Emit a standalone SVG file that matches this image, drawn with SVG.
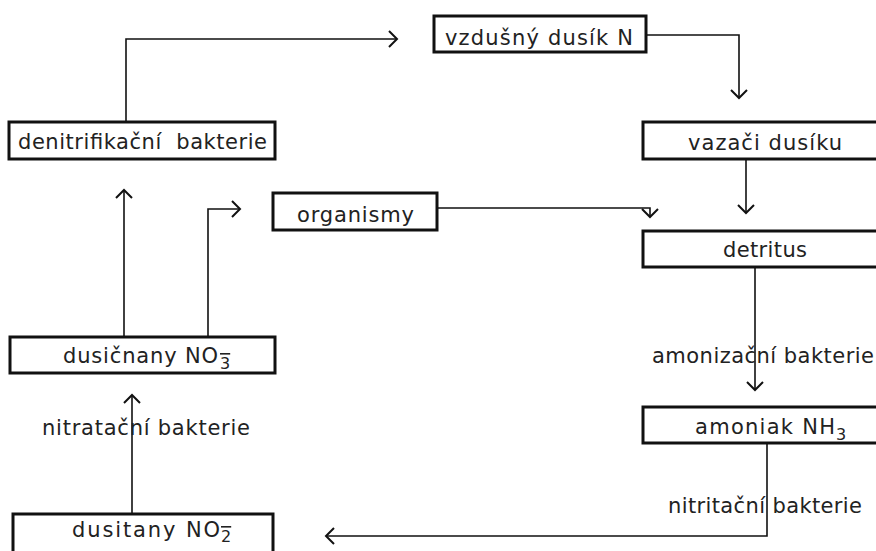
<svg xmlns="http://www.w3.org/2000/svg" width="876" height="551" viewBox="0 0 876 551">
<style>
.box{fill:#fff;stroke:#111;stroke-width:3}
.t{font-family:"DejaVu Sans",sans-serif;font-size:21px;fill:#222}
.s{font-family:"DejaVu Sans",sans-serif;font-size:16px;fill:#222}
.ov{text-decoration:overline}
.c{fill:none;stroke:#111;stroke-width:1.6}
</style>
<defs>
<marker id="a" markerUnits="userSpaceOnUse" markerWidth="24" markerHeight="24" viewBox="-12 -12 24 24" refX="0" refY="0" orient="auto" overflow="visible">
<path d="M-8,-8 L0,0 L-8,8" fill="none" stroke="#111" stroke-width="2"/>
</marker>
</defs>
<rect width="876" height="551" fill="#fff"/>
<g id="connectors">
<path class="c" d="M126,122 V39 H397" marker-end="url(#a)"/>
<path class="c" d="M646,35 H739 V98" marker-end="url(#a)"/>
<path class="c" d="M746,159 V213" marker-end="url(#a)"/>
<path class="c" d="M437,208 H650 V217" marker-end="url(#a)"/>
<path class="c" d="M755,267 V390" marker-end="url(#a)"/>
<path class="c" d="M767,443 V536 H326" marker-end="url(#a)"/>
<path class="c" d="M132,514 V395" marker-end="url(#a)"/>
<path class="c" d="M124,337 V190" marker-end="url(#a)"/>
<path class="c" d="M208,337 V209 H240" marker-end="url(#a)"/>
</g>
<g id="vzdusny">
<rect class="box" x="434" y="16" width="212" height="36"/>
<text class="t" x="445" y="45" textLength="188" lengthAdjust="spacing">vzdušný dusík N</text>
</g>
<g id="denitrifikacni">
<rect class="box" x="9" y="122" width="266" height="37"/>
<text class="t" x="18" y="149" textLength="249" lengthAdjust="spacing" xml:space="preserve" style="white-space:pre">denitrifikační  bakterie</text>
</g>
<g id="vazaci">
<rect class="box" x="643" y="122" width="245" height="37"/>
<text class="t" x="688" y="150" textLength="154" lengthAdjust="spacing">vazači dusíku</text>
</g>
<g id="organismy">
<rect class="box" x="273" y="193" width="164" height="37"/>
<text class="t" x="297" y="222" textLength="117" lengthAdjust="spacing">organismy</text>
</g>
<g id="detritus">
<rect class="box" x="643" y="231" width="245" height="36"/>
<text class="t" x="723" y="257" textLength="84" lengthAdjust="spacing">detritus</text>
</g>
<g id="amoniak">
<rect class="box" x="643" y="407" width="245" height="36"/>
<text class="t" x="695" y="434" textLength="140" lengthAdjust="spacing">amoniak NH</text>
<text class="s" x="836" y="440">3</text>
</g>
<g id="dusicnany">
<rect class="box" x="10" y="337" width="265" height="36"/>
<text class="t" x="63" y="363" textLength="155" lengthAdjust="spacing">dusičnany NO</text>
<text class="s ov" x="220" y="369">3</text>
</g>
<g id="dusitany">
<rect class="box" x="13" y="514" width="260" height="50"/>
<text class="t" x="72" y="537" textLength="148" lengthAdjust="spacing">dusitany NO</text>
<text class="s ov" x="221" y="542">2</text>
</g>
<g id="labels">
<text class="t" x="652" y="363" textLength="222" lengthAdjust="spacing">amonizační bakterie</text>
<text class="t" x="42" y="435" textLength="208" lengthAdjust="spacing">nitratační bakterie</text>
<text class="t" x="668" y="513" textLength="194" lengthAdjust="spacing">nitritační bakterie</text>
</g>
</svg>
